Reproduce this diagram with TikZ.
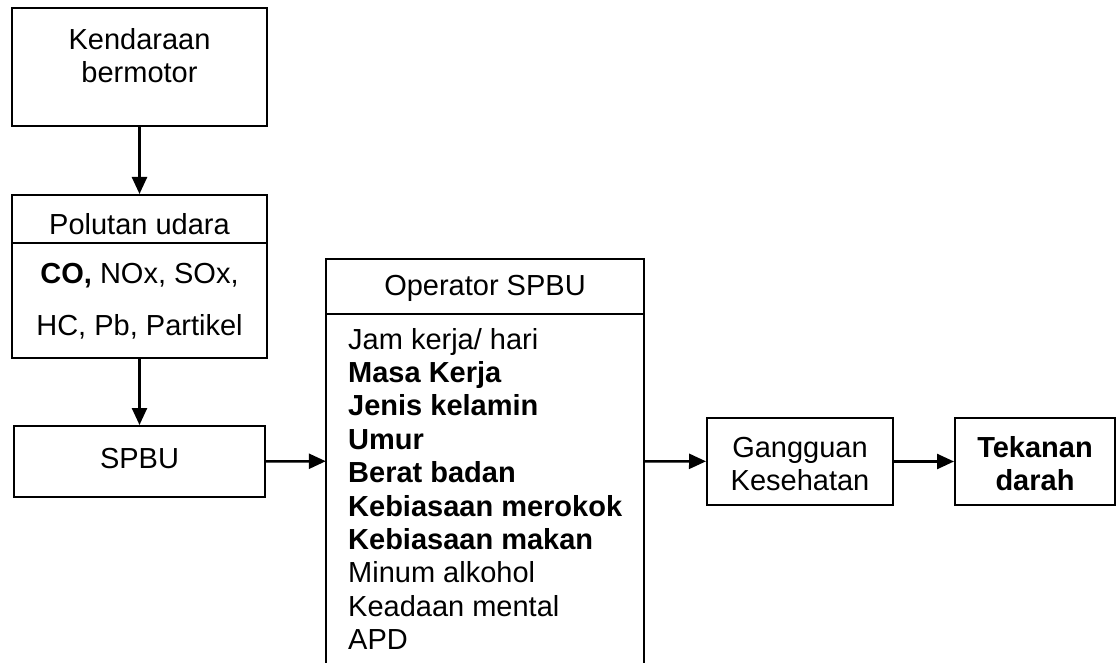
\documentclass[tikz,border=0pt]{standalone}
\usepackage{fontspec}
\setmainfont{Liberation Sans}
\usetikzlibrary{arrows.meta}
\begin{document}
\begin{tikzpicture}[x=1pt,y=-1pt,
  box/.style={draw, line width=2pt, inner sep=0pt},
  rule/.style={line width=2pt},
  txt/.style={font=\fontsize{29}{33}\selectfont, align=center, inner sep=0pt},
  item/.style={font=\fontsize{29}{33}\selectfont, anchor=base west, inner sep=0pt},
  arr/.style={line width=2.5pt, -{Triangle[length=17pt,width=15pt]}}]
\useasboundingbox (0,0) rectangle (1120,663);
% boxes
\node[box, minimum width=255pt, minimum height=118pt] (kend) at (139.5,67) {};
\node[txt] (kendt) at (139.5,56) {Kendaraan\\bermotor};
\node[box, minimum width=255pt, minimum height=163pt] (pol) at (139.5,276.5) {};
\coordinate (pdiv) at (0,243);
\draw[rule] (pol.west |- pdiv) -- (pol.east |- pdiv);
\node[txt] (polt) at (139.5,224) {Polutan udara};
\node[txt] (pol1) at (139.5,276) {\textbf{CO,} NOx, SOx,};
\node[txt] (pol2) at (139.5,327) {HC, Pb, Partikel};
\node[box, minimum width=251pt, minimum height=71pt] (spbu) at (139.5,461.5) {};
\node[txt] (spbut) at (139.5,459) {SPBU};
% operator (open at bottom)
\node[inner sep=0pt, minimum width=318pt, minimum height=404pt] (op) at (485,461) {};
\draw[rule] (op.south west) -- (op.north west) -- (op.north east) -- (op.south east);
\coordinate (odiv) at (0,314);
\draw[rule] (op.west |- odiv) -- (op.east |- odiv);
\node[txt] (opt) at (485,288) {Operator SPBU};
\node[item] (l1) at (348,349) {Jam kerja/ hari};
\node[item] (l2) at (348,382.4) {\bfseries Masa Kerja};
\node[item] (l3) at (348,415.8) {\bfseries Jenis kelamin};
\node[item] (l4) at (348,449.2) {\bfseries Umur};
\node[item] (l5) at (348,482.6) {\bfseries Berat badan};
\node[item] (l6) at (348,516) {\bfseries Kebiasaan merokok};
\node[item] (l7) at (348,549.4) {\bfseries Kebiasaan makan};
\node[item] (l8) at (348,582.8) {Minum alkohol};
\node[item] (l9) at (348,616.2) {Keadaan mental};
\node[item] (l10) at (348,649.6) {APD};
\node[box, minimum width=186pt, minimum height=87pt] (gang) at (800,461.5) {};
\node[txt] (gangt) at (800,464) {Gangguan\\Kesehatan};
\node[box, minimum width=160pt, minimum height=87pt] (tek) at (1035,461.5) {};
\node[txt, font=\fontsize{29}{33}\selectfont\bfseries] (tekt) at (1035,464) {Tekanan\\darah};
% connectors
\draw[arr] (kend) -- (pol);
\draw[arr] (pol) -- (spbu);
\draw[arr] (spbu) -- (op);
\draw[arr] (op) -- (gang);
\draw[arr] (gang) -- (tek);
\end{tikzpicture}
\end{document}
